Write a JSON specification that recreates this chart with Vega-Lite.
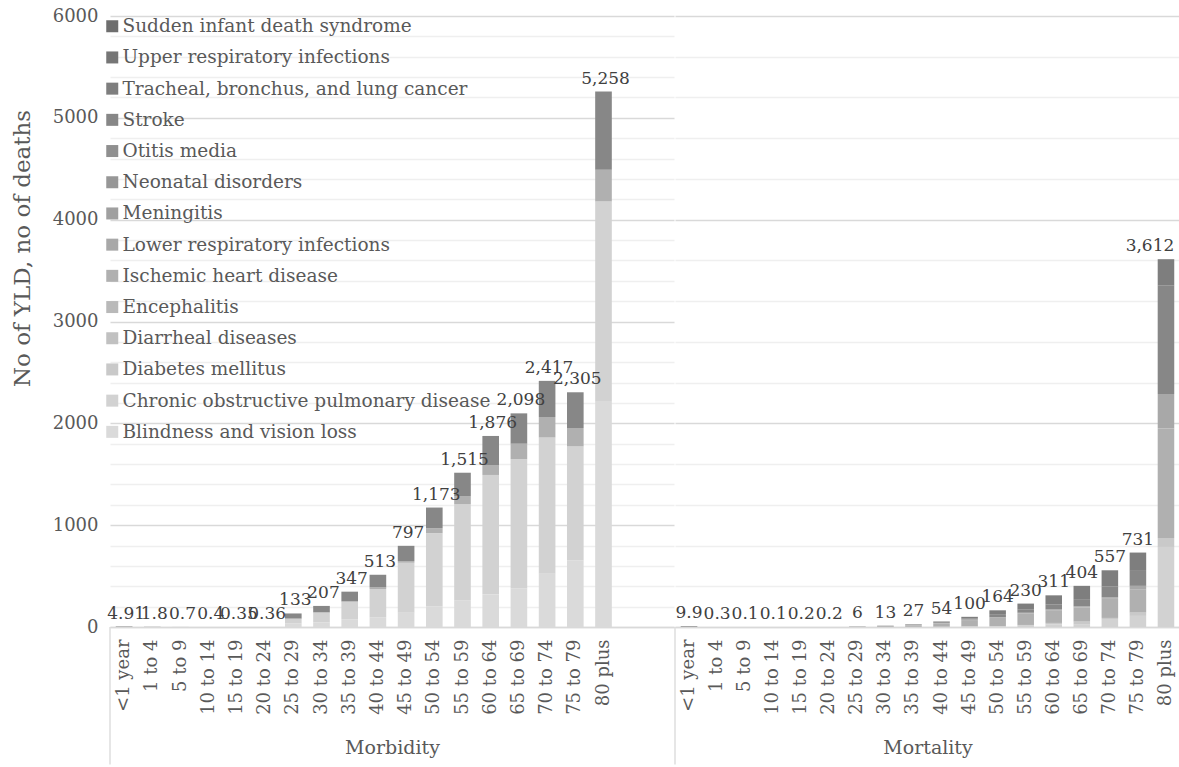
{
  "$schema": "https://vega.github.io/schema/vega-lite/v6.json",
  "background": "white",
  "padding": {"left": 11, "top": 7, "right": 0, "bottom": 0},
  "spacing": 0,
  "config": {
    "view": {"stroke": null},
    "font": "DejaVu Serif",
    "text": {"font": "DejaVu Serif"},
    "legend": {"labelFont": "DejaVu Serif"},
    "axis": {"labelFont": "DejaVu Serif", "titleFont": "DejaVu Serif", "labelColor": "#595959", "titleColor": "#595959", "titleFontWeight": "normal"}
  },
  "datasets": {
    "d": [
      {"g": "Morbidity", "age": "<1 year", "cause": "Otitis media", "v": 2.6},
      {"g": "Morbidity", "age": "<1 year", "cause": "Upper respiratory infections", "v": 2.31},
      {"g": "Morbidity", "age": "1 to 4", "cause": "Otitis media", "v": 1.0},
      {"g": "Morbidity", "age": "1 to 4", "cause": "Upper respiratory infections", "v": 0.8},
      {"g": "Morbidity", "age": "5 to 9", "cause": "Otitis media", "v": 0.4},
      {"g": "Morbidity", "age": "5 to 9", "cause": "Upper respiratory infections", "v": 0.3},
      {"g": "Morbidity", "age": "10 to 14", "cause": "Otitis media", "v": 0.2},
      {"g": "Morbidity", "age": "10 to 14", "cause": "Upper respiratory infections", "v": 0.2},
      {"g": "Morbidity", "age": "15 to 19", "cause": "Blindness and vision loss", "v": 0.15},
      {"g": "Morbidity", "age": "15 to 19", "cause": "Otitis media", "v": 0.2},
      {"g": "Morbidity", "age": "20 to 24", "cause": "Blindness and vision loss", "v": 0.2},
      {"g": "Morbidity", "age": "20 to 24", "cause": "Otitis media", "v": 0.16},
      {"g": "Morbidity", "age": "25 to 29", "cause": "Blindness and vision loss", "v": 35},
      {"g": "Morbidity", "age": "25 to 29", "cause": "Chronic obstructive pulmonary disease", "v": 46},
      {"g": "Morbidity", "age": "25 to 29", "cause": "Ischemic heart disease", "v": 2},
      {"g": "Morbidity", "age": "25 to 29", "cause": "Stroke", "v": 50},
      {"g": "Morbidity", "age": "30 to 34", "cause": "Blindness and vision loss", "v": 46},
      {"g": "Morbidity", "age": "30 to 34", "cause": "Chronic obstructive pulmonary disease", "v": 96},
      {"g": "Morbidity", "age": "30 to 34", "cause": "Ischemic heart disease", "v": 2},
      {"g": "Morbidity", "age": "30 to 34", "cause": "Stroke", "v": 63},
      {"g": "Morbidity", "age": "35 to 39", "cause": "Blindness and vision loss", "v": 75},
      {"g": "Morbidity", "age": "35 to 39", "cause": "Chronic obstructive pulmonary disease", "v": 173},
      {"g": "Morbidity", "age": "35 to 39", "cause": "Ischemic heart disease", "v": 4},
      {"g": "Morbidity", "age": "35 to 39", "cause": "Stroke", "v": 95},
      {"g": "Morbidity", "age": "40 to 44", "cause": "Blindness and vision loss", "v": 95},
      {"g": "Morbidity", "age": "40 to 44", "cause": "Chronic obstructive pulmonary disease", "v": 278},
      {"g": "Morbidity", "age": "40 to 44", "cause": "Ischemic heart disease", "v": 16},
      {"g": "Morbidity", "age": "40 to 44", "cause": "Stroke", "v": 124},
      {"g": "Morbidity", "age": "45 to 49", "cause": "Blindness and vision loss", "v": 140},
      {"g": "Morbidity", "age": "45 to 49", "cause": "Chronic obstructive pulmonary disease", "v": 491},
      {"g": "Morbidity", "age": "45 to 49", "cause": "Ischemic heart disease", "v": 16},
      {"g": "Morbidity", "age": "45 to 49", "cause": "Stroke", "v": 150},
      {"g": "Morbidity", "age": "50 to 54", "cause": "Blindness and vision loss", "v": 201},
      {"g": "Morbidity", "age": "50 to 54", "cause": "Chronic obstructive pulmonary disease", "v": 720},
      {"g": "Morbidity", "age": "50 to 54", "cause": "Ischemic heart disease", "v": 49},
      {"g": "Morbidity", "age": "50 to 54", "cause": "Stroke", "v": 203},
      {"g": "Morbidity", "age": "55 to 59", "cause": "Blindness and vision loss", "v": 261},
      {"g": "Morbidity", "age": "55 to 59", "cause": "Chronic obstructive pulmonary disease", "v": 943},
      {"g": "Morbidity", "age": "55 to 59", "cause": "Ischemic heart disease", "v": 82},
      {"g": "Morbidity", "age": "55 to 59", "cause": "Stroke", "v": 229},
      {"g": "Morbidity", "age": "60 to 64", "cause": "Blindness and vision loss", "v": 318},
      {"g": "Morbidity", "age": "60 to 64", "cause": "Chronic obstructive pulmonary disease", "v": 1175},
      {"g": "Morbidity", "age": "60 to 64", "cause": "Ischemic heart disease", "v": 98},
      {"g": "Morbidity", "age": "60 to 64", "cause": "Stroke", "v": 285},
      {"g": "Morbidity", "age": "65 to 69", "cause": "Blindness and vision loss", "v": 378},
      {"g": "Morbidity", "age": "65 to 69", "cause": "Chronic obstructive pulmonary disease", "v": 1268},
      {"g": "Morbidity", "age": "65 to 69", "cause": "Ischemic heart disease", "v": 154},
      {"g": "Morbidity", "age": "65 to 69", "cause": "Stroke", "v": 298},
      {"g": "Morbidity", "age": "70 to 74", "cause": "Blindness and vision loss", "v": 523},
      {"g": "Morbidity", "age": "70 to 74", "cause": "Chronic obstructive pulmonary disease", "v": 1338},
      {"g": "Morbidity", "age": "70 to 74", "cause": "Ischemic heart disease", "v": 201},
      {"g": "Morbidity", "age": "70 to 74", "cause": "Stroke", "v": 355},
      {"g": "Morbidity", "age": "75 to 79", "cause": "Blindness and vision loss", "v": 652},
      {"g": "Morbidity", "age": "75 to 79", "cause": "Chronic obstructive pulmonary disease", "v": 1121},
      {"g": "Morbidity", "age": "75 to 79", "cause": "Ischemic heart disease", "v": 181},
      {"g": "Morbidity", "age": "75 to 79", "cause": "Stroke", "v": 351},
      {"g": "Morbidity", "age": "80 plus", "cause": "Blindness and vision loss", "v": 2220},
      {"g": "Morbidity", "age": "80 plus", "cause": "Chronic obstructive pulmonary disease", "v": 1960},
      {"g": "Morbidity", "age": "80 plus", "cause": "Ischemic heart disease", "v": 310},
      {"g": "Morbidity", "age": "80 plus", "cause": "Stroke", "v": 768},
      {"g": "Mortality", "age": "<1 year", "cause": "Neonatal disorders", "v": 7},
      {"g": "Mortality", "age": "<1 year", "cause": "Sudden infant death syndrome", "v": 1.5},
      {"g": "Mortality", "age": "<1 year", "cause": "Lower respiratory infections", "v": 1.0},
      {"g": "Mortality", "age": "<1 year", "cause": "Diarrheal diseases", "v": 0.4},
      {"g": "Mortality", "age": "1 to 4", "cause": "Lower respiratory infections", "v": 0.2},
      {"g": "Mortality", "age": "1 to 4", "cause": "Diarrheal diseases", "v": 0.1},
      {"g": "Mortality", "age": "5 to 9", "cause": "Lower respiratory infections", "v": 0.05},
      {"g": "Mortality", "age": "5 to 9", "cause": "Diarrheal diseases", "v": 0.05},
      {"g": "Mortality", "age": "10 to 14", "cause": "Lower respiratory infections", "v": 0.1},
      {"g": "Mortality", "age": "15 to 19", "cause": "Lower respiratory infections", "v": 0.1},
      {"g": "Mortality", "age": "15 to 19", "cause": "Encephalitis", "v": 0.1},
      {"g": "Mortality", "age": "20 to 24", "cause": "Lower respiratory infections", "v": 0.1},
      {"g": "Mortality", "age": "20 to 24", "cause": "Meningitis", "v": 0.1},
      {"g": "Mortality", "age": "25 to 29", "cause": "Lower respiratory infections", "v": 2},
      {"g": "Mortality", "age": "25 to 29", "cause": "Ischemic heart disease", "v": 2},
      {"g": "Mortality", "age": "25 to 29", "cause": "Stroke", "v": 1},
      {"g": "Mortality", "age": "25 to 29", "cause": "Meningitis", "v": 1},
      {"g": "Mortality", "age": "30 to 34", "cause": "Ischemic heart disease", "v": 6},
      {"g": "Mortality", "age": "30 to 34", "cause": "Lower respiratory infections", "v": 3},
      {"g": "Mortality", "age": "30 to 34", "cause": "Stroke", "v": 3},
      {"g": "Mortality", "age": "30 to 34", "cause": "Tracheal, bronchus, and lung cancer", "v": 1},
      {"g": "Mortality", "age": "35 to 39", "cause": "Chronic obstructive pulmonary disease", "v": 1},
      {"g": "Mortality", "age": "35 to 39", "cause": "Diabetes mellitus", "v": 1},
      {"g": "Mortality", "age": "35 to 39", "cause": "Ischemic heart disease", "v": 14},
      {"g": "Mortality", "age": "35 to 39", "cause": "Lower respiratory infections", "v": 4},
      {"g": "Mortality", "age": "35 to 39", "cause": "Stroke", "v": 5},
      {"g": "Mortality", "age": "35 to 39", "cause": "Tracheal, bronchus, and lung cancer", "v": 2},
      {"g": "Mortality", "age": "40 to 44", "cause": "Chronic obstructive pulmonary disease", "v": 2},
      {"g": "Mortality", "age": "40 to 44", "cause": "Diabetes mellitus", "v": 2},
      {"g": "Mortality", "age": "40 to 44", "cause": "Ischemic heart disease", "v": 32},
      {"g": "Mortality", "age": "40 to 44", "cause": "Lower respiratory infections", "v": 5},
      {"g": "Mortality", "age": "40 to 44", "cause": "Stroke", "v": 8},
      {"g": "Mortality", "age": "40 to 44", "cause": "Tracheal, bronchus, and lung cancer", "v": 5},
      {"g": "Mortality", "age": "45 to 49", "cause": "Chronic obstructive pulmonary disease", "v": 5},
      {"g": "Mortality", "age": "45 to 49", "cause": "Diabetes mellitus", "v": 3},
      {"g": "Mortality", "age": "45 to 49", "cause": "Ischemic heart disease", "v": 60},
      {"g": "Mortality", "age": "45 to 49", "cause": "Lower respiratory infections", "v": 6},
      {"g": "Mortality", "age": "45 to 49", "cause": "Stroke", "v": 12},
      {"g": "Mortality", "age": "45 to 49", "cause": "Tracheal, bronchus, and lung cancer", "v": 14},
      {"g": "Mortality", "age": "50 to 54", "cause": "Chronic obstructive pulmonary disease", "v": 6},
      {"g": "Mortality", "age": "50 to 54", "cause": "Diabetes mellitus", "v": 4},
      {"g": "Mortality", "age": "50 to 54", "cause": "Ischemic heart disease", "v": 80},
      {"g": "Mortality", "age": "50 to 54", "cause": "Lower respiratory infections", "v": 6},
      {"g": "Mortality", "age": "50 to 54", "cause": "Stroke", "v": 30},
      {"g": "Mortality", "age": "50 to 54", "cause": "Tracheal, bronchus, and lung cancer", "v": 38},
      {"g": "Mortality", "age": "55 to 59", "cause": "Chronic obstructive pulmonary disease", "v": 12},
      {"g": "Mortality", "age": "55 to 59", "cause": "Diabetes mellitus", "v": 8},
      {"g": "Mortality", "age": "55 to 59", "cause": "Ischemic heart disease", "v": 115},
      {"g": "Mortality", "age": "55 to 59", "cause": "Lower respiratory infections", "v": 5},
      {"g": "Mortality", "age": "55 to 59", "cause": "Stroke", "v": 30},
      {"g": "Mortality", "age": "55 to 59", "cause": "Tracheal, bronchus, and lung cancer", "v": 60},
      {"g": "Mortality", "age": "60 to 64", "cause": "Chronic obstructive pulmonary disease", "v": 25},
      {"g": "Mortality", "age": "60 to 64", "cause": "Diabetes mellitus", "v": 15},
      {"g": "Mortality", "age": "60 to 64", "cause": "Ischemic heart disease", "v": 125},
      {"g": "Mortality", "age": "60 to 64", "cause": "Lower respiratory infections", "v": 8},
      {"g": "Mortality", "age": "60 to 64", "cause": "Stroke", "v": 50},
      {"g": "Mortality", "age": "60 to 64", "cause": "Tracheal, bronchus, and lung cancer", "v": 88},
      {"g": "Mortality", "age": "65 to 69", "cause": "Chronic obstructive pulmonary disease", "v": 23},
      {"g": "Mortality", "age": "65 to 69", "cause": "Diabetes mellitus", "v": 30},
      {"g": "Mortality", "age": "65 to 69", "cause": "Ischemic heart disease", "v": 140},
      {"g": "Mortality", "age": "65 to 69", "cause": "Lower respiratory infections", "v": 10},
      {"g": "Mortality", "age": "65 to 69", "cause": "Stroke", "v": 64},
      {"g": "Mortality", "age": "65 to 69", "cause": "Tracheal, bronchus, and lung cancer", "v": 137},
      {"g": "Mortality", "age": "70 to 74", "cause": "Chronic obstructive pulmonary disease", "v": 71},
      {"g": "Mortality", "age": "70 to 74", "cause": "Diabetes mellitus", "v": 18},
      {"g": "Mortality", "age": "70 to 74", "cause": "Ischemic heart disease", "v": 188},
      {"g": "Mortality", "age": "70 to 74", "cause": "Lower respiratory infections", "v": 15},
      {"g": "Mortality", "age": "70 to 74", "cause": "Stroke", "v": 108},
      {"g": "Mortality", "age": "70 to 74", "cause": "Tracheal, bronchus, and lung cancer", "v": 157},
      {"g": "Mortality", "age": "75 to 79", "cause": "Chronic obstructive pulmonary disease", "v": 109},
      {"g": "Mortality", "age": "75 to 79", "cause": "Diabetes mellitus", "v": 33},
      {"g": "Mortality", "age": "75 to 79", "cause": "Ischemic heart disease", "v": 229},
      {"g": "Mortality", "age": "75 to 79", "cause": "Lower respiratory infections", "v": 33},
      {"g": "Mortality", "age": "75 to 79", "cause": "Stroke", "v": 147},
      {"g": "Mortality", "age": "75 to 79", "cause": "Tracheal, bronchus, and lung cancer", "v": 180},
      {"g": "Mortality", "age": "80 plus", "cause": "Chronic obstructive pulmonary disease", "v": 786},
      {"g": "Mortality", "age": "80 plus", "cause": "Diabetes mellitus", "v": 88},
      {"g": "Mortality", "age": "80 plus", "cause": "Ischemic heart disease", "v": 1074},
      {"g": "Mortality", "age": "80 plus", "cause": "Lower respiratory infections", "v": 341},
      {"g": "Mortality", "age": "80 plus", "cause": "Stroke", "v": 1067},
      {"g": "Mortality", "age": "80 plus", "cause": "Tracheal, bronchus, and lung cancer", "v": 256}
    ]
  },
  "hconcat": [
    {
      "width": 564,
      "height": 611,
      "data": {"name": "d"},
      "layer": [
        {
          "transform": [{"filter": "datum.g === 'Morbidity'"}],
          "mark": {"type": "bar"},
          "encoding": {
            "x": {"field": "age", "type": "nominal",
              "scale": {"domain": ["<1 year", "1 to 4", "5 to 9", "10 to 14", "15 to 19", "20 to 24", "25 to 29", "30 to 34", "35 to 39", "40 to 44", "45 to 49", "50 to 54", "55 to 59", "60 to 64", "65 to 69", "70 to 74", "75 to 79", "80 plus", " ", "  "], "paddingInner": 0.41, "paddingOuter": 0.205},
              "axis": {"title": "Morbidity", "labelAngle": -90, "labelFontSize": 18, "labelPadding": 12, "ticks": false, "domainColor": "#d9d9d9", "domainWidth": 1.3, "titleFontSize": 19, "titlePadding": 24, "labelOverlap": false}},
            "y": {"field": "v", "type": "quantitative", "stack": "zero",
              "scale": {"domain": [0, 6000], "nice": false},
              "axis": {"values": [0, 200, 400, 600, 800, 1000, 1200, 1400, 1600, 1800, 2000, 2200, 2400, 2600, 2800, 3000, 3200, 3400, 3600, 3800, 4000, 4200, 4400, 4600, 4800, 5000, 5200, 5400, 5600, 5800, 6000],
                "labels": false, "grid": true,
                "gridColor": {"condition": {"test": "datum.value % 1000 === 0", "value": "#d9d9d9"}, "value": "#efefef"},
                "gridWidth": 1.3, "ticks": false, "domain": false, "title": null, "orient": "left"}},
            "color": {"field": "cause", "type": "nominal",
              "scale": {"domain": ["Sudden infant death syndrome", "Upper respiratory infections", "Tracheal, bronchus, and lung cancer", "Stroke", "Otitis media", "Neonatal disorders", "Meningitis", "Lower respiratory infections", "Ischemic heart disease", "Encephalitis", "Diarrheal diseases", "Diabetes mellitus", "Chronic obstructive pulmonary disease", "Blindness and vision loss"],
                "range": ["#6e6e6e", "#767676", "#7e7e7e", "#878787", "#8f8f8f", "#979797", "#a0a0a0", "#a8a8a8", "#b0b0b0", "#b9b9b9", "#c1c1c1", "#c9c9c9", "#d2d2d2", "#dadada"]},
              "legend": {"orient": "none", "legendX": -7, "legendY": 1, "title": null, "symbolType": "square", "symbolSize": 144, "symbolStrokeWidth": 0, "labelFontSize": 18.5, "labelColor": "#595959", "rowPadding": 12.2, "labelOffset": 1, "labelLimit": 600}},
            "order": {"field": "cause", "sort": "ascending"}
          }
        },
        {
          "transform": [{"filter": "datum.g === 'Morbidity'"}, {"aggregate": [{"op": "sum", "field": "v", "as": "tot"}], "groupby": ["age"]}],
          "mark": {"type": "text", "baseline": "alphabetic", "dy": -8, "dx": 2, "fontSize": 17, "color": "#404040"},
          "encoding": {
            "x": {"field": "age", "type": "nominal"},
            "y": {"field": "tot", "type": "quantitative",
              "axis": {"values": [0, 1000, 2000, 3000, 4000, 5000, 6000], "format": "d", "orient": "left", "grid": false, "ticks": false, "domain": false,
                "labelFontSize": 18, "labelPadding": 12, "labelOverlap": false,
                "title": "No of YLD, no of deaths", "titleFontSize": 23, "titlePadding": 18, "titleY": 232}},
            "text": {"field": "tot", "type": "quantitative", "format": ",~f"}
          }
        },
        {
          "data": {"values": [{}]},
          "mark": {"type": "rule", "color": "#d9d9d9", "strokeWidth": 1.3},
          "encoding": {
            "x": {"datum": "<1 year", "bandPosition": -0.3475},
            "y": {"datum": 0, "axis": null},
            "y2": {"datum": -1350}
          }
        }
      ],
      "resolve": {"axis": {"y": "independent"}}
    },
    {
      "width": 505,
      "height": 611,
      "data": {"name": "d"},
      "layer": [
        {
          "transform": [{"filter": "datum.g === 'Mortality'"}],
          "mark": {"type": "bar"},
          "encoding": {
            "x": {"field": "age", "type": "nominal",
              "scale": {"domain": ["<1 year", "1 to 4", "5 to 9", "10 to 14", "15 to 19", "20 to 24", "25 to 29", "30 to 34", "35 to 39", "40 to 44", "45 to 49", "50 to 54", "55 to 59", "60 to 64", "65 to 69", "70 to 74", "75 to 79", "80 plus"], "paddingInner": 0.41, "paddingOuter": 0.205},
              "axis": {"title": "Mortality", "labelAngle": -90, "labelFontSize": 18, "labelPadding": 12, "ticks": false, "domainColor": "#d9d9d9", "domainWidth": 1.3, "titleFontSize": 19, "titlePadding": 24, "labelOverlap": false}},
            "y": {"field": "v", "type": "quantitative", "stack": "zero",
              "scale": {"domain": [0, 6000], "nice": false},
              "axis": {"values": [0, 200, 400, 600, 800, 1000, 1200, 1400, 1600, 1800, 2000, 2200, 2400, 2600, 2800, 3000, 3200, 3400, 3600, 3800, 4000, 4200, 4400, 4600, 4800, 5000, 5200, 5400, 5600, 5800, 6000],
                "labels": false, "grid": true,
                "gridColor": {"condition": {"test": "datum.value % 1000 === 0", "value": "#d9d9d9"}, "value": "#efefef"},
                "gridWidth": 1.3, "ticks": false, "domain": false, "title": null}},
            "color": {"field": "cause", "type": "nominal",
              "scale": {"domain": ["Sudden infant death syndrome", "Upper respiratory infections", "Tracheal, bronchus, and lung cancer", "Stroke", "Otitis media", "Neonatal disorders", "Meningitis", "Lower respiratory infections", "Ischemic heart disease", "Encephalitis", "Diarrheal diseases", "Diabetes mellitus", "Chronic obstructive pulmonary disease", "Blindness and vision loss"],
                "range": ["#6e6e6e", "#767676", "#7e7e7e", "#878787", "#8f8f8f", "#979797", "#a0a0a0", "#a8a8a8", "#b0b0b0", "#b9b9b9", "#c1c1c1", "#c9c9c9", "#d2d2d2", "#dadada"]},
              "legend": null},
            "order": {"field": "cause", "sort": "ascending"}
          }
        },
        {
          "transform": [{"filter": "datum.g === 'Mortality'"}, {"aggregate": [{"op": "sum", "field": "v", "as": "tot"}], "groupby": ["age"]}],
          "mark": {"type": "text", "baseline": "alphabetic", "dy": -8, "dx": {"expr": "datum.tot > 3000 ? -16 : 0"}, "fontSize": 17, "color": "#404040"},
          "encoding": {
            "x": {"field": "age", "type": "nominal"},
            "y": {"field": "tot", "type": "quantitative"},
            "text": {"field": "tot", "type": "quantitative", "format": ",~f"}
          }
        },
        {
          "data": {"values": [{}]},
          "mark": {"type": "rule", "color": "#d9d9d9", "strokeWidth": 1.3},
          "encoding": {
            "x": {"datum": "<1 year", "bandPosition": -0.3475},
            "y": {"datum": 0},
            "y2": {"datum": -1350}
          }
        }
      ]
    }
  ],
  "resolve": {"scale": {"color": "independent", "x": "independent"}, "legend": {"color": "independent"}}
}
